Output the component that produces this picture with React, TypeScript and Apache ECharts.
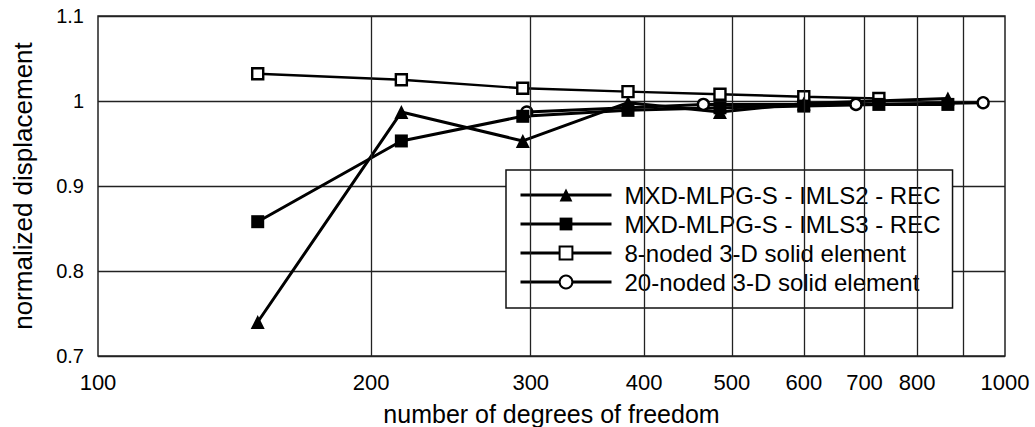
import React, { useEffect, useRef } from "react";
import * as echarts from "echarts";

const FONT = "'Liberation Sans', Arial, Helvetica, sans-serif";

const seriesNames = [
  "MXD-MLPG-S - IMLS2 - REC",
  "MXD-MLPG-S - IMLS3 - REC",
  "8-noded 3-D solid element",
  "20-noded 3-D solid element",
];

const dofImls2 = [150, 216, 294, 384, 485, 600, 865];
const valImls2 = [0.74, 0.987, 0.953, 0.998, 0.987, 0.997, 1.003];

const dofImls3 = [150, 216, 294, 384, 485, 600, 726, 865];
const valImls3 = [0.858, 0.953, 0.982, 0.989, 0.992, 0.994, 0.996, 0.996];

const dofNode8 = [150, 216, 294, 384, 485, 600, 726];
const valNode8 = [1.032, 1.025, 1.015, 1.011, 1.008, 1.005, 1.003];

const dofNode20 = [297, 465, 685, 946];
const valNode20 = [0.987, 0.996, 0.996, 0.998];

const xGridValues = [200, 300, 400, 500, 600, 700, 800, 900];
const xGridLabels = ["200", "300", "400", "500", "600", "700", "800", ""];

const zip = (xs: number[], ys: number[]) => xs.map((x, i) => [x, ys[i]]);

export default function App() {
  const ref = useRef<HTMLDivElement>(null);

  useEffect(() => {
    if (!ref.current) return;
    const chart = echarts.init(ref.current, undefined, { renderer: "svg" });

    const lineBase = {
      type: "line",
      showAllSymbol: true,
      z: 3,
    };

    chart.setOption({
      animation: false,
      backgroundColor: "#ffffff",
      textStyle: { fontFamily: FONT, color: "#000" },
      grid: {
        left: 98,
        right: 30,
        top: 16,
        bottom: 71,
        outerBoundsMode: "none",
        containLabel: false,
        show: true,
        borderColor: "#222",
        borderWidth: 1.5,
        backgroundColor: "#fff",
      },
      legend: {
        orient: "vertical",
        left: 506,
        top: 170,
        padding: [12, 12, 13, 13],
        itemWidth: 91,
        itemHeight: 16,
        itemGap: 3,
        backgroundColor: "#fff",
        borderColor: "#111",
        borderWidth: 1.5,
        data: seriesNames,
        lineStyle: { width: 3 },
        textStyle: {
          fontFamily: FONT,
          fontSize: 24,
          color: "#000",
          lineHeight: 26,
          padding: [0, 0, 0, 8],
        },
      },
      xAxis: {
        type: "log",
        logBase: 10,
        min: 100,
        max: 1000,
        name: "number of degrees of freedom",
        nameLocation: "middle",
        nameGap: 45,
        nameTextStyle: { fontFamily: FONT, fontSize: 25, color: "#000", lineHeight: 25 },
        axisLine: { show: false },
        axisTick: { show: false },
        splitLine: { show: false },
        axisLabel: {
          fontFamily: FONT,
          fontSize: 22,
          color: "#000",
          margin: 15,
          formatter: (v: number) => String(Math.round(v)),
        },
      },
      yAxis: {
        type: "value",
        min: 0.7,
        max: 1.1,
        interval: 0.1,
        name: "normalized displacement",
        nameLocation: "middle",
        nameGap: 62,
        nameTextStyle: { fontFamily: FONT, fontSize: 26, color: "#000" },
        axisLine: { show: false },
        axisTick: { show: false },
        splitLine: { show: true, lineStyle: { color: "#222", width: 1.3 } },
        axisLabel: {
          fontFamily: FONT,
          fontSize: 20,
          color: "#000",
          margin: 14,
          formatter: (v: number) => String(Math.round(v * 10) / 10),
        },
      },
      series: [
        {
          type: "line",
          name: "__grid",
          data: [],
          silent: true,
          z: 1,
          markLine: {
            silent: true,
            symbol: "none",
            animation: false,
            lineStyle: { color: "#222", width: 1.3, type: "solid" },
            label: {
              show: true,
              position: "start",
              distance: 15,
              fontFamily: FONT,
              fontSize: 22,
              color: "#000",
              formatter: (p: any) => xGridLabels[xGridValues.indexOf(p.value)] ?? "",
            },
            data: xGridValues.map((v) => ({ xAxis: v })),
          },
        },
        {
          ...lineBase,
          name: seriesNames[2],
          data: zip(dofNode8, valNode8),
          symbol: "rect",
          symbolSize: 11,
          lineStyle: { color: "#000", width: 2.4 },
          itemStyle: { color: "#fff", borderColor: "#000", borderWidth: 2.4 },
        },
        {
          ...lineBase,
          name: seriesNames[3],
          data: zip(dofNode20, valNode20),
          symbol: "circle",
          symbolSize: 11,
          lineStyle: { color: "#000", width: 3 },
          itemStyle: { color: "#fff", borderColor: "#000", borderWidth: 2.4 },
        },
        {
          ...lineBase,
          name: seriesNames[1],
          data: zip(dofImls3, valImls3),
          symbol: "rect",
          symbolSize: 13,
          lineStyle: { color: "#000", width: 3 },
          itemStyle: { color: "#000", borderColor: "#000", borderWidth: 0 },
        },
        {
          ...lineBase,
          name: seriesNames[0],
          data: zip(dofImls2, valImls2),
          symbol: "triangle",
          symbolSize: 14,
          lineStyle: { color: "#000", width: 3 },
          itemStyle: { color: "#000", borderColor: "#000", borderWidth: 0 },
        },
      ],
    });

    return () => chart.dispose();
  }, []);

  return <div ref={ref} style={{ width: 1035, height: 427, position: "fixed", left: 0, top: 0 }} />;
}
